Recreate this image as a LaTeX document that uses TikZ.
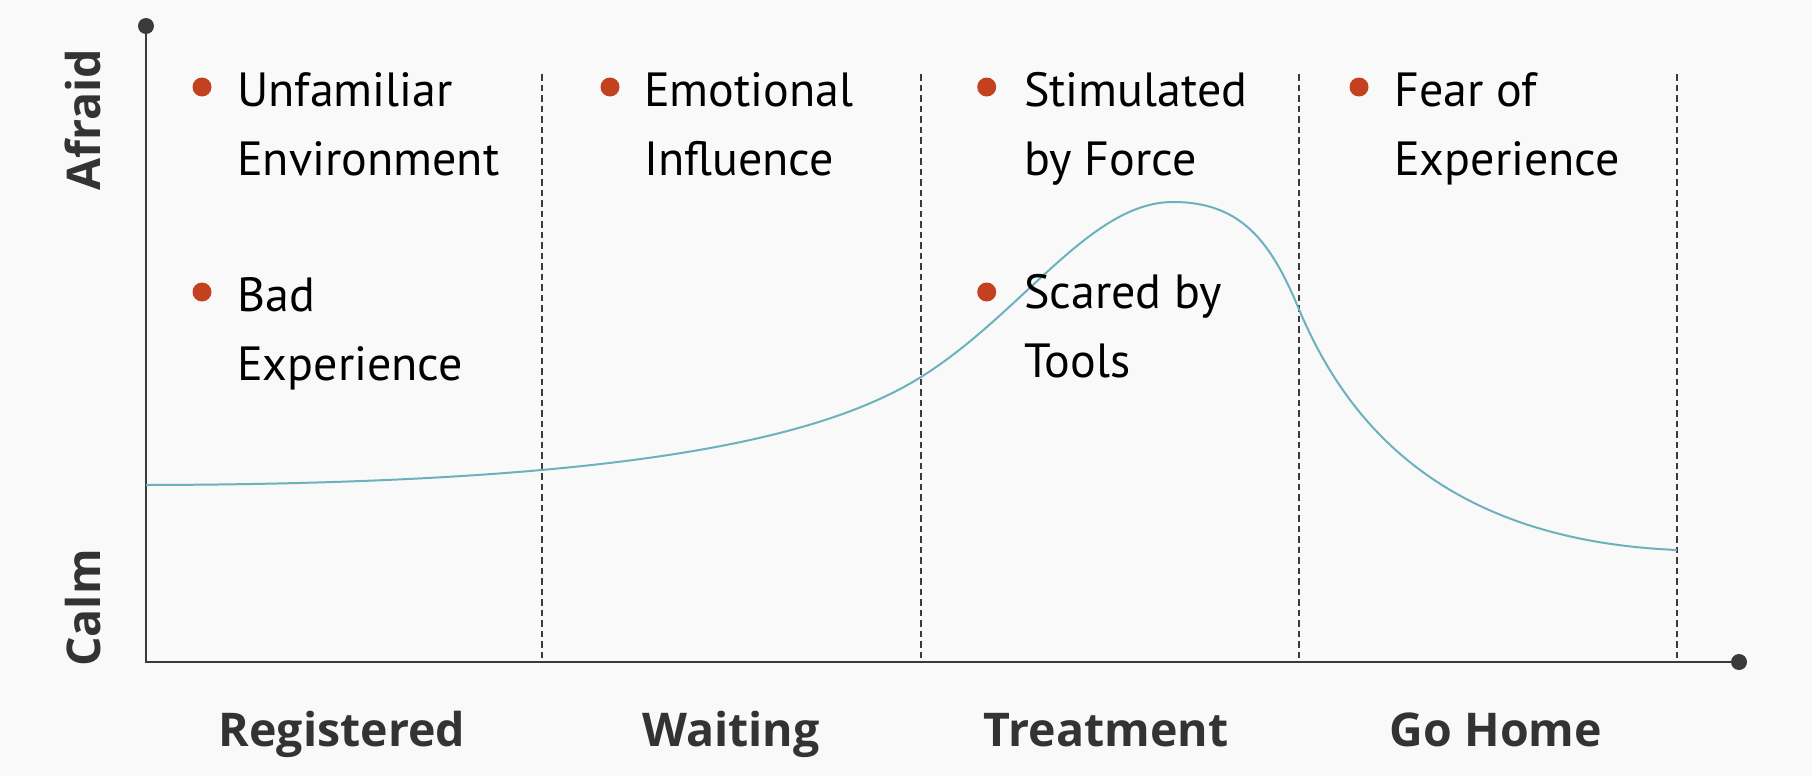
\documentclass[tikz,border=0pt]{standalone}
\usepackage{fontspec}
\setmainfont{PT Sans}
\newfontfamily\labelfont{Open Sans}
\definecolor{bg}{RGB}{249,249,249}
\definecolor{axiscol}{RGB}{58,58,58}
\definecolor{curvecol}{RGB}{108,178,188}
\definecolor{dotred}{RGB}{196,65,31}
\definecolor{labelcol}{RGB}{51,51,51}
\begin{document}
\begin{tikzpicture}[x=1pt,y=-1pt,
  axisline/.style={draw=axiscol,line width=2.2pt},
  enddot/.style={circle,fill=axiscol,inner sep=0pt,minimum size=16pt},
  divider/.style={draw=axiscol,line width=2pt,dash pattern=on 6.5pt off 4pt},
  bulletdot/.style={circle,fill=dotred,inner sep=0pt,minimum size=19pt},
  itemtext/.style={anchor=base west,inner sep=0pt,text=black,font=\fontsize{48}{58}\selectfont},
  stagelabel/.style={anchor=base,inner sep=0pt,text=labelcol,font=\labelfont\fontsize{46.5}{56}\selectfont\bfseries},
  levellabel/.style={anchor=base,inner sep=0pt,text=labelcol,rotate=90,font=\labelfont\fontsize{46.5}{56}\selectfont\bfseries}]
\fill[bg] (0,0) rectangle (1812,776);
\useasboundingbox (0,0) rectangle (1812,776);
% axes
\coordinate (origin) at (146,662);
\node[enddot] (ytop) at (146,26) {};
\node[enddot] (xend) at (1739,662) {};
% dividers
\foreach \x/\n in {542/d1,921/d2,1299/d3,1677/d4}{
  \coordinate (\n top) at (\x,74);
  \coordinate (\n bot) at (\x,662);
  \draw[divider] (\n top) -- (\n bot);
}
\draw[axisline] (ytop.center) -- (origin) -- (xend.center);
% curve
\draw[curvecol,line width=2pt]
  (146,485) .. controls (620,484) and (820,440) .. (921,377)
  .. controls (1022,314) and (1090,202) .. (1173,202)
  .. controls (1240,202) and (1270,240) .. (1298,307)
  .. controls (1345,420) and (1440,540) .. (1677,550);
% bullets
\node[bulletdot] (b1) at (202,87) {};
\node[itemtext] (t1a) at (237,106.7) {Unfamiliar};
\node[itemtext] (t1b) at (237,175) {Environment};
\node[bulletdot] (b2) at (202,292) {};
\node[itemtext] (t2a) at (237,311.5) {Bad};
\node[itemtext] (t2b) at (237,380) {Experience};
\node[bulletdot] (b3) at (610,87) {};
\node[itemtext] (t3a) at (644,106.7) {Emotional};
\node[itemtext] (t3b) at (644,175) {Influence};
\node[bulletdot] (b4) at (986.7,87) {};
\node[itemtext] (t4a) at (1024,106.7) {Stimulated};
\node[itemtext] (t4b) at (1024,175) {by Force};
\node[bulletdot] (b5) at (986.7,292) {};
\node[itemtext] (t5a) at (1024,308.5) {Scared by};
\node[itemtext] (t5b) at (1024,377) {Tools};
\node[bulletdot] (b6) at (1359,87) {};
\node[itemtext] (t6a) at (1394,106.7) {Fear of};
\node[itemtext] (t6b) at (1394,175) {Experience};
% stage labels
\node[stagelabel] (s1) at (342,746) {Registered};
\node[stagelabel] (s2) at (731,746) {Waiting};
\node[stagelabel] (s3) at (1106,746) {Treatment};
\node[stagelabel] (s4) at (1496,746) {Go Home};
% level labels
\node[levellabel] (afraid) at (100,120) {Afraid};
\node[levellabel] (calm) at (100,608) {Calm};
\end{tikzpicture}
\end{document}
